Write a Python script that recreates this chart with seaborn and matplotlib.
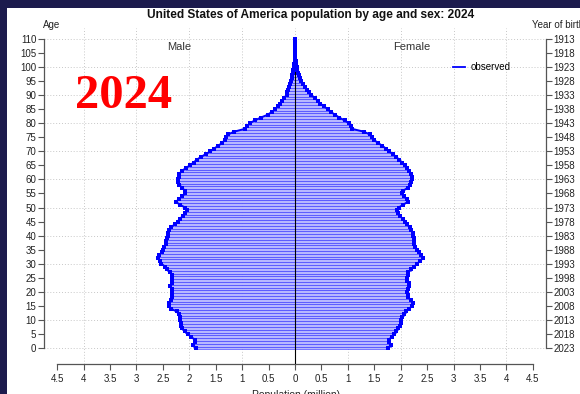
import numpy as np
import pandas as pd
import matplotlib
matplotlib.use("Agg")
import matplotlib.pyplot as plt
from matplotlib.patches import Rectangle
from matplotlib.lines import Line2D
import seaborn as sns

# Population by single year of age (millions), United States, 2024
ages = list(range(0, 111))
male = [
    1.87, 1.93, 1.90, 1.90, 1.97, 2.03, 2.09, 2.13, 2.15, 2.16,
    2.17, 2.18, 2.20, 2.24, 2.35, 2.39, 2.38, 2.34, 2.33, 2.32,
    2.32, 2.33, 2.36, 2.33, 2.32, 2.32, 2.33, 2.36, 2.42, 2.46,
    2.53, 2.56, 2.60, 2.58, 2.52, 2.49, 2.47, 2.45, 2.44, 2.43,
    2.41, 2.40, 2.38, 2.34, 2.28, 2.22, 2.18, 2.12, 2.08, 2.05,
    2.08, 2.18, 2.25, 2.20, 2.13, 2.08, 2.09, 2.13, 2.19, 2.21,
    2.21, 2.20, 2.19, 2.14, 2.07, 1.99, 1.92, 1.86, 1.78, 1.69,
    1.60, 1.53, 1.45, 1.38, 1.33, 1.30, 1.27, 1.15, 0.95, 0.90,
    0.86, 0.76, 0.65, 0.52, 0.44, 0.37, 0.33, 0.28, 0.24, 0.20,
    0.16, 0.15, 0.13, 0.11, 0.09, 0.07, 0.06, 0.05, 0.04, 0.03,
    0.02, 0.01, 0.005, 0.003, 0.002, 0.001, 0.0, 0.0, 0.0, 0.0, 0.0,
]
female = [
    1.76, 1.81, 1.78, 1.78, 1.83, 1.87, 1.91, 1.94, 1.98, 2.00,
    2.01, 2.03, 2.06, 2.11, 2.16, 2.22, 2.23, 2.20, 2.14, 2.13,
    2.12, 2.13, 2.15, 2.16, 2.12, 2.12, 2.13, 2.14, 2.20, 2.26,
    2.31, 2.37, 2.42, 2.39, 2.34, 2.31, 2.28, 2.26, 2.26, 2.25,
    2.24, 2.23, 2.20, 2.17, 2.12, 2.09, 2.04, 1.98, 1.95, 1.93,
    1.96, 2.05, 2.13, 2.12, 2.06, 2.02, 2.05, 2.13, 2.17, 2.20,
    2.21, 2.21, 2.20, 2.16, 2.12, 2.08, 2.03, 1.97, 1.92, 1.85,
    1.78, 1.72, 1.65, 1.57, 1.50, 1.46, 1.42, 1.30, 1.08, 1.06,
    1.02, 0.94, 0.84, 0.76, 0.68, 0.62, 0.55, 0.48, 0.43, 0.37,
    0.31, 0.26, 0.22, 0.18, 0.15, 0.12, 0.10, 0.07, 0.05, 0.04,
    0.03, 0.02, 0.01, 0.005, 0.003, 0.001, 0.0, 0.0, 0.0, 0.0, 0.0,
]
age_ticks = list(range(0, 111, 5))
birth_years = [2023 - a for a in age_ticks]
pop_ticks = [-4.5, -4, -3.5, -3, -2.5, -2, -1.5, -1, -0.5, 0,
             0.5, 1, 1.5, 2, 2.5, 3, 3.5, 4, 4.5]
pop_labels = ["4.5", "4", "3.5", "3", "2.5", "2", "1.5", "1", "0.5", "0",
              "0.5", "1", "1.5", "2", "2.5", "3", "3.5", "4", "4.5"]

df = pd.DataFrame({"age": ages, "male": -np.array(male), "female": np.array(female)})

W, H = 580, 394
fig = plt.figure(figsize=(W / 100, H / 100), dpi=100)
fig.patch.set_facecolor("#1c1b4d")
fig.add_artist(Rectangle((7 / W, 0), 1, (H - 8) / H, transform=fig.transFigure,
                         facecolor="white", edgecolor="none", zorder=-10))

sans = "Liberation Sans"
plt.rcParams["font.family"] = [sans, "DejaVu Sans"]

left, right, top, bottom = 44, 546, 28, 364
ax = fig.add_axes([left / W, 1 - bottom / H, (right - left) / W, (bottom - top) / H])
ax.set_facecolor("none")
ylo, yhi = -5.7, 113.9
xlo, xhi = -4.75, 4.75

# dotted grid
grid_kw = dict(color="#c8c8c8", lw=0.7, ls=(0, (1, 2)), zorder=0)
for gx in range(-4, 5):
    ax.axvline(gx, **grid_kw)
for gy in range(0, 111, 10):
    ax.axhline(gy, **grid_kw)

# one light bar per age, thin blue line at each bar edge
bar_kw = dict(orient="h", native_scale=True, width=1.0, saturation=1,
              color="#b8b8ff", edgecolor="#2a2aff", linewidth=0.38, ax=ax, zorder=2)
sns.barplot(data=df, x="male", y="age", **bar_kw)
sns.barplot(data=df, x="female", y="age", **bar_kw)

ax.plot([0, 0], [ylo, 104], color="black", lw=0.8, zorder=3)

line_kw = dict(orient="y", sort=True, estimator=None, color="#0000ff", lw=1.4,
               marker="s", markersize=2.8, markeredgewidth=0, ax=ax, zorder=4)
sns.lineplot(data=df, x="male", y="age", **line_kw)
sns.lineplot(data=df, x="female", y="age", **line_kw)

ax.set_xlim(xlo, xhi)
ax.set_ylim(ylo, yhi)
ax.set_xlabel("")
ax.set_ylabel("")

for s in ["top", "right"]:
    ax.spines[s].set_visible(False)
ax.spines["left"].set_bounds(0, 110)
ax.spines["bottom"].set_bounds(-4.5, 4.5)
for s in ["left", "bottom"]:
    ax.spines[s].set_color("#555555")
    ax.spines[s].set_linewidth(0.9)

ax.set_yticks(age_ticks)
ax.set_yticklabels([str(a) for a in age_ticks])
ax.set_xticks(pop_ticks)
ax.set_xticklabels(pop_labels)
ax.tick_params(axis="both", labelsize=7, length=4, width=0.8, color="#555555",
               labelcolor="#222222", pad=1.5)
ax.tick_params(axis="x", pad=3)

ax2 = ax.twinx()
ax2.set_ylim(ylo, yhi)
ax2.set_yticks(age_ticks)
ax2.set_yticklabels([str(y) for y in birth_years])
for s in ["top", "left", "bottom"]:
    ax2.spines[s].set_visible(False)
ax2.spines["right"].set_bounds(0, 110)
ax2.spines["right"].set_color("#555555")
ax2.spines["right"].set_linewidth(0.9)
ax2.tick_params(axis="y", labelsize=7, length=4, width=0.8, color="#555555",
                labelcolor="#222222", pad=1.5)

handle = Line2D([], [], color="#0000ff", lw=1.3)
ax.legend([handle], ["observed"], loc="center left", frameon=False, fontsize=7,
          handlelength=1.3, handletextpad=0.5,
          bbox_to_anchor=((444 - left) / (right - left), 1 - (67.5 - top) / (bottom - top)))

def ftext(x, y, s, **kw):
    fig.text(x / W, 1 - y / H, s, **kw)

ftext(311, 15, "United States of America population by age and sex: 2024",
      ha="center", va="center", fontsize=8.6, fontweight="bold", color="#111111")
ftext(52, 25, "Age", ha="center", va="center", fontsize=7, color="#222222")
ftext(532, 25, "Year of birth", ha="left", va="center", fontsize=7, color="#222222")
ftext(179, 47, "Male", ha="center", va="center", fontsize=8, color="#333333")
ftext(412, 47, "Female", ha="center", va="center", fontsize=8, color="#333333")
ftext(296, 389.5, "Population (million)", ha="center", va="top", fontsize=7.5,
      color="#222222")
ftext(75, 108, "2024", ha="left", va="baseline", fontsize=35, fontweight="bold",
      color="#ff0000", family=["Liberation Serif", "DejaVu Serif"])

fig.savefig("out.png", dpi=100, facecolor=fig.get_facecolor())
